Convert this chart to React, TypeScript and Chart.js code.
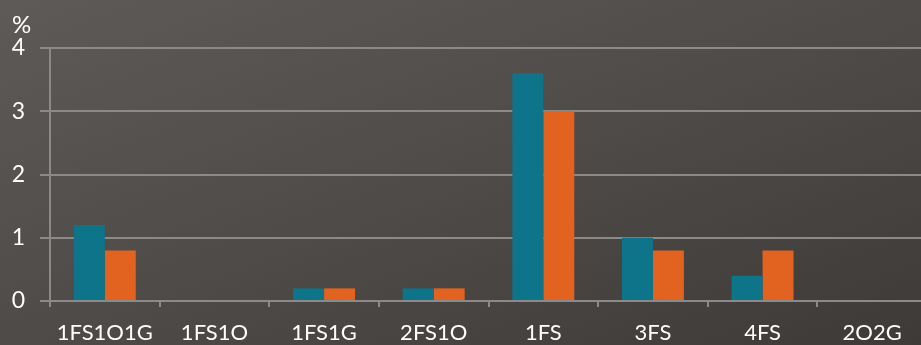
import React, { useEffect, useRef } from "react";
import { Chart, registerables } from "chart.js";

Chart.register(...registerables);

const categories = ["1FS1O1G", "1FS1O", "1FS1G", "2FS1O", "1FS", "3FS", "4FS", "2O2G"];
const seriesA = [1.2, 0, 0.2, 0.2, 3.6, 1.0, 0.4, 0];
const seriesB = [0.8, 0, 0.2, 0.2, 3.0, 0.8, 0.8, 0];
const yTicks = [0, 1, 2, 3, 4];
const unitLabel = "%";

const FONT = "Lato, 'Open Sans', sans-serif";

export default function App() {
  const ref = useRef<HTMLCanvasElement | null>(null);

  useEffect(() => {
    if (!ref.current) return;
    const unitPlugin = {
      id: "unitLabel",
      afterDraw(chart: any) {
        const ctx = chart.ctx;
        ctx.save();
        ctx.fillStyle = "#ffffff";
        ctx.font = `24px ${FONT}`;
        ctx.textAlign = "left";
        ctx.textBaseline = "alphabetic";
        ctx.fillText(unitLabel, 12, 33);
        ctx.restore();
      },
    };
    const chart = new Chart(ref.current, {
      type: "bar",
      data: {
        labels: categories,
        datasets: [
          { label: "A", data: seriesA, backgroundColor: "#0e7489", barPercentage: 1, categoryPercentage: 0.565 },
          { label: "B", data: seriesB, backgroundColor: "#e2621f", barPercentage: 1, categoryPercentage: 0.565 },
        ],
      },
      options: {
        animation: false,
        responsive: false,
        maintainAspectRatio: false,
        layout: { padding: { top: 48, right: 0, bottom: 0, left: 0 } },
        plugins: { legend: { display: false }, tooltip: { enabled: false } },
        scales: {
          x: {
            afterFit(scale: any) {
              scale.height = 44;
            },
            grid: {
              drawOnChartArea: false,
              drawTicks: true,
              tickLength: 6,
              color: "#8a8a8a",
              lineWidth: 2,
              offset: true,
            },
            border: { color: "#8a8a8a", width: 2 },
            ticks: {
              color: "#ffffff",
              font: { family: FONT, size: 22 },
              padding: 13,
              maxRotation: 0,
              autoSkip: false,
            },
          },
          y: {
            min: 0,
            max: 4,
            afterFit(scale: any) {
              scale.width = 50;
            },
            afterBuildTicks(scale: any) {
              scale.ticks = yTicks.map((v) => ({ value: v }));
            },
            grid: { color: "#8a8a8a", lineWidth: 2, tickLength: 10, drawTicks: true },
            border: { color: "#8a8a8a", width: 2 },
            ticks: {
              color: "#ffffff",
              font: { family: FONT, size: 23 },
              padding: 15,
              stepSize: 1,
            },
          },
        },
      },
      plugins: [unitPlugin],
    });
    return () => chart.destroy();
  }, []);

  return (
    <div
      style={{
        position: "fixed",
        left: 0,
        top: 0,
        width: 921,
        height: 345,
        overflow: "hidden",
        background: "linear-gradient(160deg, #5e5a58 0%, #4f4b49 50%, #3d3a38 100%)",
      }}
    >
      <canvas ref={ref} width={927} height={345} style={{ display: "block", width: 927, height: 345 }} />
    </div>
  );
}
